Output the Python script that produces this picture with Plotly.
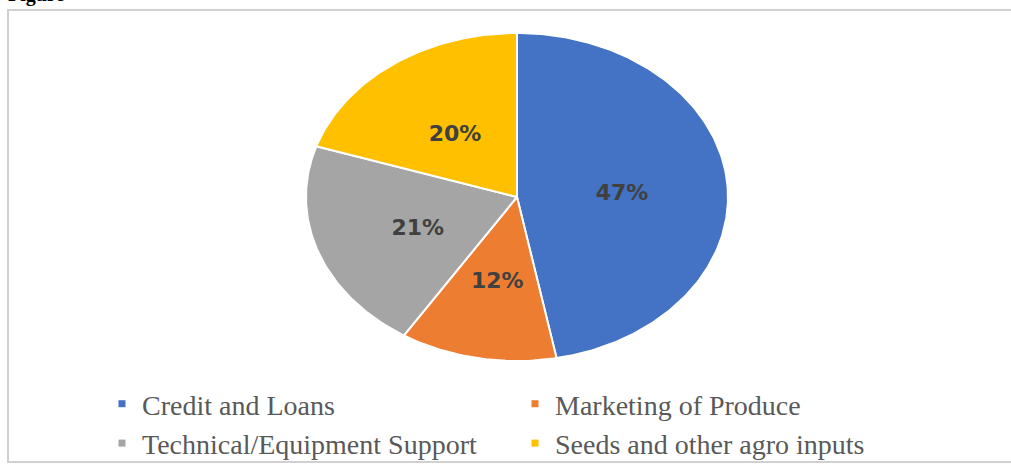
import numpy as np
import plotly.graph_objects as go

# Share of support received, by type of assistance
categories = ["Credit and Loans", "Marketing of Produce",
              "Technical/Equipment Support", "Seeds and other agro inputs"]
shares = [47, 12, 21, 20]
colors = ["#4472C4", "#ED7D31", "#A5A5A5", "#FFC000"]

W, H = 1011, 471
# pie centre and radii in pixels (the pie is drawn as a stretched ellipse)
CX, CY, RX, RY = 517, 197, 211, 164
LABEL_R = 0.5          # label distance as a fraction of the radius
LABEL_DROP = 5         # label nudge downwards, pixels

fig = go.Figure()

total = float(sum(shares))
start = 0.0
label_x, label_y = [], []
for name, val, col in zip(categories, shares, colors):
    end = start + val / total
    th = np.linspace(start, end, max(int(val * 4), 8)) * 2 * np.pi
    xs = np.concatenate([[0.0], np.sin(th), [0.0]])
    ys = np.concatenate([[0.0], np.cos(th), [0.0]])
    fig.add_trace(go.Scatter(
        x=xs, y=ys, mode="lines", fill="toself", fillcolor=col,
        line=dict(color="white", width=2), hoverinfo="skip",
        showlegend=False))
    mid = (start + end) / 2 * 2 * np.pi
    label_x.append(LABEL_R * np.sin(mid))
    label_y.append(LABEL_R * np.cos(mid) - LABEL_DROP / RY)
    start = end

# percentage labels
fig.add_trace(go.Scatter(
    x=label_x, y=label_y, mode="text",
    text=[f"{v}%" for v in shares],
    textfont=dict(family="DejaVu Sans", size=22, color="#404040", weight="bold"),
    hoverinfo="skip", showlegend=False))

# legend entries
for name, col in zip(categories, colors):
    fig.add_trace(go.Scatter(
        x=[None], y=[None], mode="markers", name=name,
        marker=dict(symbol="square", size=7, color=col)))

fig.update_xaxes(range=[-CX / RX, (W - CX) / RX], visible=False, fixedrange=True)
fig.update_yaxes(range=[(CY - H) / RY, CY / RY], visible=False, fixedrange=True)

fig.update_layout(
    width=W, height=H,
    margin=dict(l=0, r=0, t=0, b=0),
    paper_bgcolor="white", plot_bgcolor="white",
    showlegend=True,
    legend=dict(
        orientation="h", x=102 / W, xanchor="left", y=1 - 379 / H, yanchor="top",
        entrywidth=368, entrywidthmode="pixels",
        font=dict(family="Liberation Serif", size=28, color="#595959"),
        bgcolor="rgba(0,0,0,0)", itemclick=False, itemdoubleclick=False),
    title=dict(text="<b>Figure</b>", x=8 / W, xanchor="left",
               y=1 - 1 / H, yanchor="bottom", yref="container",
               font=dict(family="Liberation Serif", size=20, color="#000000")),
    shapes=[dict(type="rect", xref="paper", yref="paper",
                 x0=8 / W, x1=1.01, y0=1 - 462 / H, y1=1 - 10 / H,
                 line=dict(color="#d0d0d0", width=2), layer="below")],
)

fig.write_html("out.html")
